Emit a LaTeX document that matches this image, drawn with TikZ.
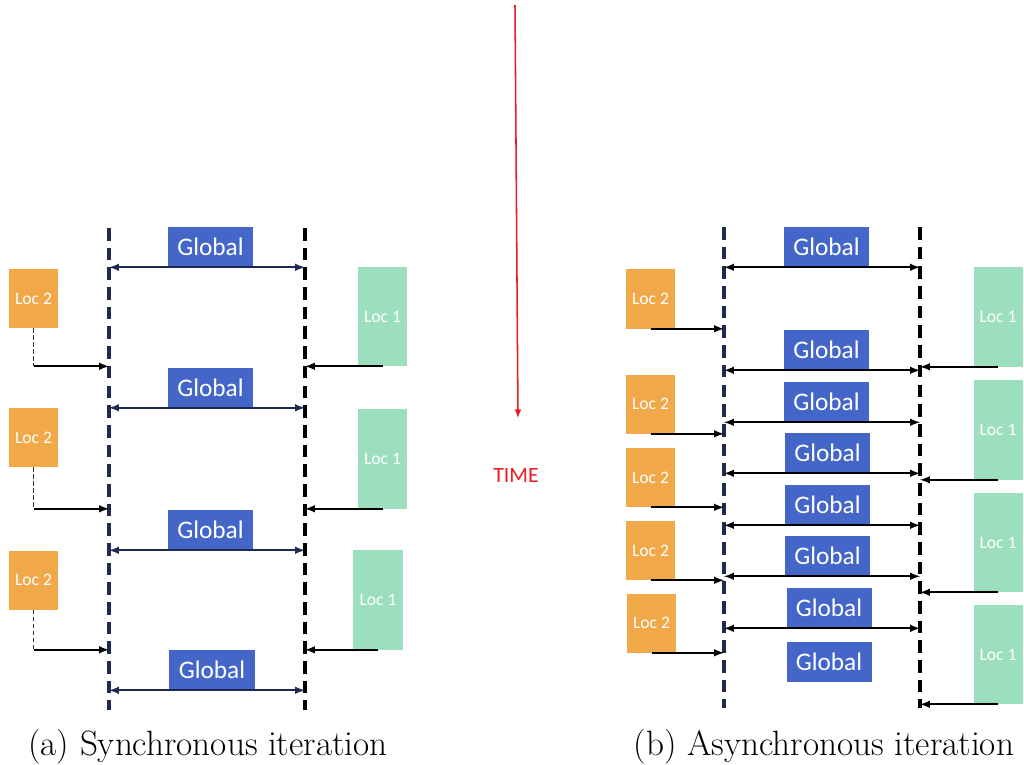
\documentclass[tikz,border=0pt]{standalone}
\usepackage{fontspec}
\newfontfamily\calibri{Carlito}
\usepackage{tikz}
\usetikzlibrary{arrows, positioning, shapes}
\definecolor{orange}{RGB}{240,168,72}
\definecolor{mint}{RGB}{155,223,191}
\definecolor{blue}{RGB}{68,102,200}
\definecolor{navy}{RGB}{30,42,82}
\definecolor{red}{RGB}{236,28,36}
\tikzstyle{global}=[rectangle, fill=blue, text=white, minimum width=2.125cm, minimum height=1cm, inner sep=0pt, font=\calibri\fontsize{18}{20}\selectfont]
\tikzstyle{loc-two}=[rectangle, fill=orange, text=white, minimum width=1.225cm, minimum height=1.475cm, inner sep=0pt, font=\calibri\fontsize{12.5}{14}\selectfont]
\tikzstyle{loc-one}=[loc-two, fill=mint, minimum height=2.475cm]
\tikzstyle{sync-line}=[draw=navy, line width=2.3pt, dash pattern=on 9pt off 5pt]
\tikzstyle{barrier}=[sync-line, draw=black]
\tikzstyle{update}=[-latex, line width=1.4pt]
\tikzstyle{broadcast}=[latex-latex, line width=1.4pt]
\tikzstyle{wait}=[draw=black!80, line width=0.6pt, dash pattern=on 3pt off 2pt]
\tikzstyle{caption}=[anchor=base, font=\fontsize{25}{29}\selectfont]

\begin{document}
\begin{tikzpicture}[x=0.025cm, y=-0.025cm]
\useasboundingbox (0,0) rectangle (1024,764);

\coordinate (sLeftTop) at (109,228);
\coordinate (sLeftBot) at (109,710);
\coordinate (sRightTop) at (305,228);
\coordinate (sRightBot) at (305,710);
\draw [sync-line] (sLeftTop) -- (sLeftBot);
\draw [barrier] (sRightTop) -- (sRightBot);

\node[global] (sGlobalA) at (210.5,247) {Global};
\node[global] (sGlobalB) at (210.5,387.5) {Global};
\node[global] (sGlobalC) at (210.5,530) {Global};
\node[global] (sGlobalD) at (212,670) {Global};
\foreach \g in {A,B,C,D}
{
  \draw [broadcast][draw=navy] (sGlobal\g.south -| sLeftTop) -- (sGlobal\g.south -| sRightTop);
}

\node[loc-two] (sLocTwoA) at (33.5,298.5) {Loc 2};
\node[loc-two] (sLocTwoB) at (33.5,437.5) {Loc 2};
\node[loc-two] (sLocTwoC) at (33.5,580) {Loc 2};
\node[loc-one] (sLocOneA) at (382.5,316.5) {Loc 1};
\node[loc-one] (sLocOneB) at (382.5,459) {Loc 1};
\node[loc-one] (sLocOneC) at (378,600) {Loc 1};
\foreach \l in {A,B,C}
{
  \coordinate (sTurn\l) at (sLocTwo\l.south |- sLocOne\l.south);
  \draw [wait] (sLocTwo\l.south) -- (sTurn\l);
  \draw [update] (sTurn\l) -- (sTurn\l -| sLeftTop);
  \draw [update] (sLocOne\l.south) -- (sLocOne\l.south -| sRightTop);
}

\node[caption] (capSync) at (208,755) {(a) Synchronous iteration};

\draw [-latex][draw=red, line width=1.1pt] (515,5) -- (518,418);
\node [text=red, font=\calibri\fontsize{15.5}{17}\selectfont] (time) at (516,475) {TIME};

\coordinate (aLeftTop) at (724,227);
\coordinate (aLeftBot) at (724,708);
\coordinate (aRightTop) at (920,227);
\coordinate (aRightBot) at (920,708);
\draw [sync-line] (aLeftTop) -- (aLeftBot);
\draw [barrier] (aRightTop) -- (aRightBot);

\node[global] (aGlobalA) at (826.5,247) {Global};
\node[global] (aGlobalB) at (826.5,350) {Global};
\node[global] (aGlobalC) at (826.5,402) {Global};
\node[global] (aGlobalD) at (827.5,453) {Global};
\node[global] (aGlobalE) at (827.5,505) {Global};
\node[global] (aGlobalF) at (827.5,556) {Global};
\node[global] (aGlobalG) at (829,608) {Global};
\node[global] (aGlobalH) at (829,661.5) {Global};
\foreach \g in {A,B,C,D,E,F,G}
{
  \draw [broadcast] (aGlobal\g.south -| aLeftTop) -- (aGlobal\g.south -| aRightTop);
}

\node[loc-two] (aLocTwoA) at (650.5,299) {Loc 2};
\node[loc-two] (aLocTwoB) at (650.5,404) {Loc 2};
\node[loc-two] (aLocTwoC) at (650.5,477.5) {Loc 2};
\node[loc-two] (aLocTwoD) at (650.5,550.5) {Loc 2};
\node[loc-two] (aLocTwoE) at (651.5,623) {Loc 2};
\foreach \l in {A,B,C,D,E}
{
  \draw [update] (aLocTwo\l.south) -- (aLocTwo\l.south -| aLeftTop);
}

\node[loc-one] (aLocOneA) at (998,317) {Loc 1};
\node[loc-one] (aLocOneB) at (998,430) {Loc 1};
\node[loc-one] (aLocOneC) at (998,542.5) {Loc 1};
\node[loc-one] (aLocOneD) at (998,654.5) {Loc 1};
\foreach \l in {A,B,C,D}
{
  \draw [update] (aLocOne\l.south) -- (aLocOne\l.south -| aRightTop);
}

\node[caption] (capAsync) at (824,755) {(b) Asynchronous iteration};
\end{tikzpicture}
\end{document}
